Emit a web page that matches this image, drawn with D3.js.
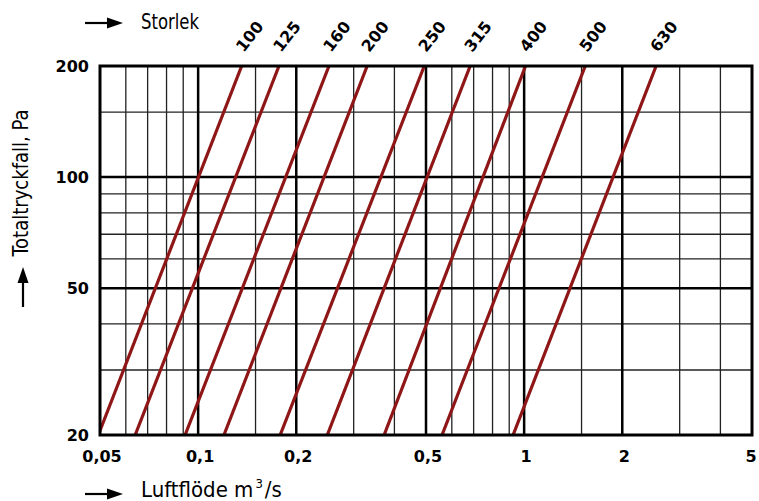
<!DOCTYPE html>
<html>
<head>
<meta charset="utf-8">
<script src="https://cdn.jsdelivr.net/npm/d3@7"></script>
<style>
  body { margin: 0; background: #fff; }
  .tick-label { font-family: "DejaVu Sans", sans-serif; font-weight: bold; font-size: 16px; fill: #000; }
  .size-label { font-family: "DejaVu Sans", sans-serif; font-weight: bold; font-size: 16px; fill: #000; }
  .title { font-family: "Liberation Sans Narrow", "DejaVu Sans Condensed", sans-serif; font-size: 22px; fill: #000; }
</style>
</head>
<body>
<svg id="chart" width="759" height="501"></svg>
<script>
// duct sizes and the flow (m3/s) where each line hits 20 Pa and 200 Pa
var sizes = [100, 125, 160, 200, 250, 315, 400, 500, 630];
var flowAt20 = [0.0494, 0.0641, 0.0912, 0.120, 0.1785, 0.249, 0.372, 0.560, 0.925];
var flowAt200 = [0.136, 0.177, 0.252, 0.330, 0.494, 0.683, 1.01, 1.54, 2.54];

var xTicks = [0.05, 0.1, 0.2, 0.5, 1, 2, 5];
var xTickLabels = ['0,05', '0,1', '0,2', '0,5', '1', '2', '5'];
var xGridThin = [0.06, 0.07, 0.08, 0.09, 0.15, 0.3, 0.4, 0.6, 0.7, 0.8, 0.9, 1.5, 3, 4];
var xGridThick = [0.1, 0.2, 0.5, 1, 2];

var yTicks = [20, 50, 100, 200];
var yGridThin = [30, 40, 60, 70, 80, 90, 150];
var yGridThick = [50, 100];

var svg = d3.select('#chart');

var x = d3.scaleLog().domain([0.05, 5]).range([100, 752]);
var y = d3.scaleLog().domain([20, 200]).range([435, 66]);

svg.append('defs').append('clipPath').attr('id', 'plot-clip')
  .append('rect')
  .attr('x', x(0.05)).attr('y', y(200))
  .attr('width', x(5) - x(0.05)).attr('height', y(20) - y(200));

var grid = svg.append('g');

grid.selectAll('.vthin').data(xGridThin).enter().append('line')
  .attr('x1', function(d){ return x(d); }).attr('x2', function(d){ return x(d); })
  .attr('y1', y(20)).attr('y2', y(200))
  .attr('stroke', '#222').attr('stroke-width', 1.3);

grid.selectAll('.hthin').data(yGridThin).enter().append('line')
  .attr('x1', x(0.05)).attr('x2', x(5))
  .attr('y1', function(d){ return y(d); }).attr('y2', function(d){ return y(d); })
  .attr('stroke', '#222').attr('stroke-width', 1.3);

grid.selectAll('.vthick').data(xGridThick).enter().append('line')
  .attr('x1', function(d){ return x(d); }).attr('x2', function(d){ return x(d); })
  .attr('y1', y(20)).attr('y2', y(200))
  .attr('stroke', '#000').attr('stroke-width', 2.5);

grid.selectAll('.hthick').data(yGridThick).enter().append('line')
  .attr('x1', x(0.05)).attr('x2', x(5))
  .attr('y1', function(d){ return y(d); }).attr('y2', function(d){ return y(d); })
  .attr('stroke', '#000').attr('stroke-width', 2.5);

// size lines
svg.append('g').attr('clip-path', 'url(#plot-clip)')
  .selectAll('line').data(sizes).enter().append('line')
  .attr('x1', function(d, i){ return x(flowAt20[i]); })
  .attr('y1', y(20))
  .attr('x2', function(d, i){ return x(flowAt200[i]); })
  .attr('y2', y(200))
  .attr('stroke', '#8e1616').attr('stroke-width', 3.2);

// frame
svg.append('rect')
  .attr('x', x(0.05)).attr('y', y(200))
  .attr('width', x(5) - x(0.05)).attr('height', y(20) - y(200))
  .attr('fill', 'none').attr('stroke', '#000').attr('stroke-width', 3);

// size labels
svg.append('g').selectAll('text').data(sizes).enter().append('text')
  .attr('class', 'size-label')
  .attr('transform', function(d, i){ return 'translate(' + (x(flowAt200[i]) + 2) + ',53) rotate(-52)'; })
  .text(function(d){ return d; });

// axis labels
svg.append('g').selectAll('text').data(xTicks).enter().append('text')
  .attr('class', 'tick-label')
  .attr('x', function(d){ return Math.min(x(d) + 2, 751); })
  .attr('y', 462)
  .attr('text-anchor', 'middle')
  .text(function(d, i){ return xTickLabels[i]; });

svg.append('g').selectAll('text').data(yTicks).enter().append('text')
  .attr('class', 'tick-label')
  .attr('x', 89)
  .attr('y', function(d){ return y(d) + 6; })
  .attr('text-anchor', 'end')
  .text(function(d){ return d; });

// titles with arrows
function arrow(x1, y1, x2, y2){
  var ang = Math.atan2(y2 - y1, x2 - x1);
  var len = 16, half = 5.5;
  var bx = x2 - len * Math.cos(ang), by = y2 - len * Math.sin(ang);
  svg.append('line')
    .attr('x1', x1).attr('y1', y1).attr('x2', bx).attr('y2', by)
    .attr('stroke', '#000').attr('stroke-width', 2.2);
  svg.append('path')
    .attr('d', 'M' + x2 + ',' + y2 +
      'L' + (bx + half * Math.sin(ang)) + ',' + (by - half * Math.cos(ang)) +
      'L' + (bx - half * Math.sin(ang)) + ',' + (by + half * Math.cos(ang)) + 'Z')
    .attr('fill', '#000');
}

arrow(85, 23, 123, 23);
svg.append('text').attr('class', 'title').attr('x', 141).attr('y', 29)
  .attr('textLength', 58).attr('lengthAdjust', 'spacingAndGlyphs')
  .text('Storlek');

arrow(85, 494, 123, 494);
var xt = svg.append('text').attr('class', 'title').attr('x', 141).attr('y', 497);
xt.append('tspan').text('Luftflöde m');
xt.append('tspan').attr('font-size', '13px').attr('dx', 2).attr('dy', -9).text('3');
xt.append('tspan').attr('dx', 2).attr('dy', 9).text('/s');

arrow(23, 307, 23, 267);
svg.append('text').attr('class', 'title')
  .attr('transform', 'translate(28,183) rotate(-90)')
  .attr('text-anchor', 'middle')
  .attr('textLength', 147).attr('lengthAdjust', 'spacingAndGlyphs')
  .text('Totaltryckfall, Pa');
</script>
</body>
</html>
